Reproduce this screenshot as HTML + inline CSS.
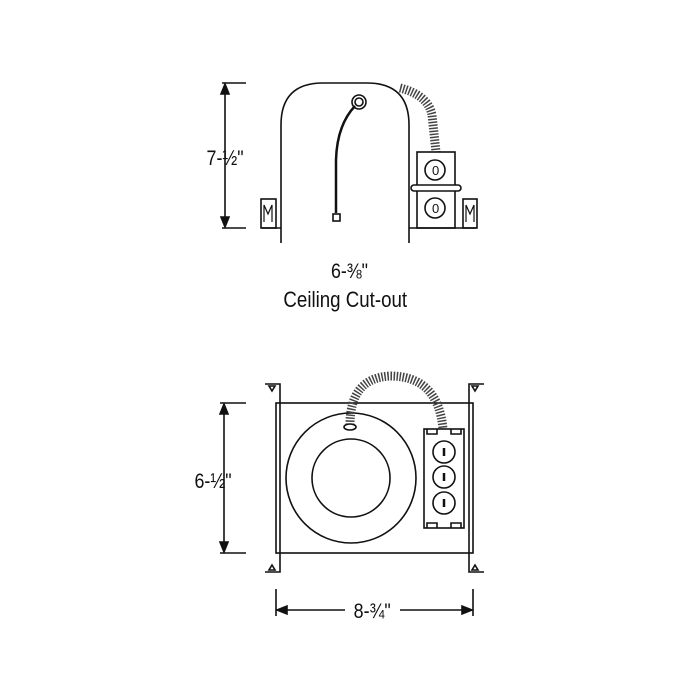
<!DOCTYPE html>
<html><head><style>body{margin:0;background:#fff}svg{display:block}text{font-family:"Liberation Sans",sans-serif;fill:#111}</style></head><body>
<svg width="700" height="700" viewBox="0 0 700 700" stroke="#111" fill="none" stroke-width="1.6">
<path d="M281 243 V125 Q281 83 323 83 H367 Q409 83 409 125 V243"/>
<path d="M262 228 H281 M409 228 H476"/>
<line x1="222" y1="83" x2="246" y2="83"/><line x1="222" y1="228" x2="246" y2="228"/>
<line x1="225" y1="90" x2="225" y2="221"/>
<path d="M225 84 L221 94 L229 94Z M225 227 L221 217 L229 217Z" fill="#111"/>
<text x="207" y="165" font-size="21" stroke="none" transform="scale(0.85,1) translate(36,0)">7-½"</text>
<circle cx="359" cy="102" r="7"/><circle cx="359" cy="102" r="4"/>
<path d="M355 106 Q337 125 336 160 L336 213" stroke-width="2.5"/>
<rect x="333" y="214" width="7" height="7"/>
<path d="M400 88 Q428 95 432 115 L436 152" stroke-width="9" stroke="#444" stroke-dasharray="1.5 1.5"/>
<rect x="417" y="152" width="38" height="76"/>
<rect x="411" y="185" width="50" height="6" rx="3" fill="#fff"/>
<circle cx="435" cy="170" r="10"/><circle cx="435" cy="208" r="10"/>
<text x="432" y="175" font-size="13" stroke="none">0</text><text x="432" y="213" font-size="13" stroke="none">0</text>
<rect x="261" y="199" width="15" height="29"/><rect x="463" y="199" width="14" height="29"/>
<path d="M264 222 V205 L268 214 L272 205 V222 M466 222 V205 L470 214 L474 205 V222" stroke-width="1.2"/>
<text x="350" y="278" font-size="21" text-anchor="middle" stroke="none" transform="translate(52,0) scale(0.85,1)">6-⅜"</text>
<text x="345" y="307" font-size="22" text-anchor="middle" stroke="none" transform="translate(52,0) scale(0.85,1)">Ceiling Cut-out</text>
<rect x="276" y="403" width="197" height="150"/>
<path d="M265 384 H280 V572 H265 M484 384 H469 V572 H484"/>
<path d="M269 386 L275 386 L272 391Z M472 386 L478 386 L475 391Z M269 570 L275 570 L272 565Z M472 570 L478 570 L475 565Z"/>
<circle cx="351" cy="478" r="65"/><circle cx="351" cy="478" r="39"/>
<path d="M350 425 Q350 378 390 376 Q438 376 443 429" stroke-width="9" stroke="#444" stroke-dasharray="1.5 1.5"/>
<ellipse cx="350" cy="427" rx="6" ry="3" fill="#fff"/>
<rect x="424" y="429" width="40" height="99" fill="#fff"/>
<path d="M427 429 V434 H437 V429 M451 429 V434 H461 V429 M427 528 V523 H437 V528 M451 528 V523 H461 V528"/>
<circle cx="444" cy="452" r="11"/><circle cx="444" cy="477" r="11"/><circle cx="444" cy="503" r="11"/>
<path d="M444 448 V456 M444 473 V481 M444 499 V507" stroke-width="2.5"/>
<line x1="220" y1="403" x2="246" y2="403"/><line x1="220" y1="553" x2="246" y2="553"/>
<line x1="224" y1="410" x2="224" y2="546"/>
<path d="M224 404 L220 414 L228 414Z M224 552 L220 542 L228 542Z" fill="#111"/>
<text x="190" y="488" font-size="21" stroke="none" transform="translate(33,0) scale(0.85,1)">6-½"</text>
<line x1="276" y1="589" x2="276" y2="616"/><line x1="473" y1="589" x2="473" y2="616"/>
<line x1="283" y1="610" x2="345" y2="610"/><line x1="400" y1="610" x2="466" y2="610"/>
<path d="M277 610 L287 606 L287 614Z M472 610 L462 606 L462 614Z" fill="#111"/>
<text x="372" y="618" font-size="21" text-anchor="middle" stroke="none" transform="translate(56,0) scale(0.85,1)">8-¾"</text>
</svg>
</body></html>
